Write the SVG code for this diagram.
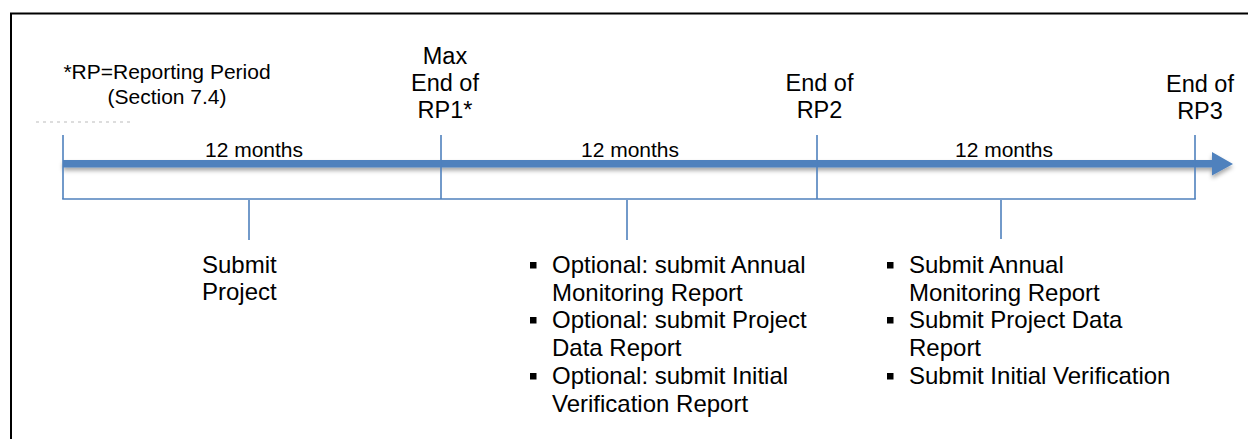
<svg xmlns="http://www.w3.org/2000/svg" width="1248" height="439" viewBox="0 0 1248 439">
  <style>
    text { font-family: "Liberation Sans", Arial, sans-serif; fill: #000; }
    .lbl { font-size: 23.5px; }
    .task { font-size: 24px; }
    .mid { text-anchor: middle; }
    .per { font-size: 21px; text-anchor: middle; }
    .note { font-size: 21px; text-anchor: middle; }
    .tick { stroke: #4F81BD; stroke-width: 1.6; fill: none; }
    .bul { fill: #000; }
  </style>
  <defs>
    <filter id="shadow" x="-5%" y="-100%" width="110%" height="400%">
      <feDropShadow dx="0" dy="3" stdDeviation="2" flood-color="#000" flood-opacity="0.35"/>
    </filter>
  </defs>
  <rect width="1248" height="439" fill="#fff"/>
  <path d="M11,439 V13.5 H1248" fill="none" stroke="#000" stroke-width="2"/>

  <g id="note">
    <text class="note" x="167" y="79">*RP=Reporting Period</text>
    <text class="note" x="167" y="104">(Section 7.4)</text>
    <line x1="36" y1="122" x2="130" y2="122" stroke="#bbb" stroke-width="1" stroke-dasharray="3 4"/>
  </g>

  <g id="connectors">
    <path d="M63,160 H1212 V152 L1233,164 L1212,175.5 V167.5 H63 Z" fill="#4F81BD" filter="url(#shadow)"/>
    <line class="tick" x1="63" y1="135" x2="63" y2="199"/>
    <line class="tick" x1="441" y1="135" x2="441" y2="199"/>
    <line class="tick" x1="817" y1="135" x2="817" y2="199"/>
    <line class="tick" x1="1195" y1="135" x2="1195" y2="199"/>
    <line class="tick" x1="62.2" y1="199" x2="1195.8" y2="199"/>
    <line class="tick" x1="249" y1="200" x2="249" y2="240"/>
    <line class="tick" x1="627" y1="200" x2="627" y2="240"/>
    <line class="tick" x1="1001" y1="200" x2="1001" y2="239"/>
  </g>

  <g id="milestone-rp1">
    <text class="lbl mid" x="445" y="64">Max</text>
    <text class="lbl mid" x="445" y="91">End of</text>
    <text class="lbl mid" x="445" y="118">RP1*</text>
  </g>
  <g id="milestone-rp2">
    <text class="lbl mid" x="819.5" y="91">End of</text>
    <text class="lbl mid" x="819.5" y="118">RP2</text>
  </g>
  <g id="milestone-rp3">
    <text class="lbl mid" x="1200" y="92">End of</text>
    <text class="lbl mid" x="1200" y="119">RP3</text>
  </g>

  <g id="period-1"><text class="per" x="254" y="157">12 months</text></g>
  <g id="period-2"><text class="per" x="630" y="157">12 months</text></g>
  <g id="period-3"><text class="per" x="1004" y="157">12 months</text></g>

  <g id="tasks-1">
    <text class="task" x="202" y="273">Submit</text>
    <text class="task" x="202" y="300">Project</text>
  </g>

  <g id="tasks-2">
    <rect class="bul" x="530" y="262" width="6.5" height="6.5"/>
    <rect class="bul" x="530" y="317" width="6.5" height="6.5"/>
    <rect class="bul" x="530" y="373" width="6.5" height="6.5"/>
    <text class="task" x="552" y="273">Optional: submit Annual</text>
    <text class="task" x="552" y="301">Monitoring Report</text>
    <text class="task" x="552" y="328">Optional: submit Project</text>
    <text class="task" x="552" y="356">Data Report</text>
    <text class="task" x="552" y="384">Optional: submit Initial</text>
    <text class="task" x="552" y="412">Verification Report</text>
  </g>

  <g id="tasks-3">
    <rect class="bul" x="887" y="262" width="6.5" height="6.5"/>
    <rect class="bul" x="887" y="317" width="6.5" height="6.5"/>
    <rect class="bul" x="887" y="373" width="6.5" height="6.5"/>
    <text class="task" x="909" y="273">Submit Annual</text>
    <text class="task" x="909" y="301">Monitoring Report</text>
    <text class="task" x="909" y="328">Submit Project Data</text>
    <text class="task" x="909" y="356">Report</text>
    <text class="task" x="909" y="384">Submit Initial Verification</text>
  </g>
</svg>
